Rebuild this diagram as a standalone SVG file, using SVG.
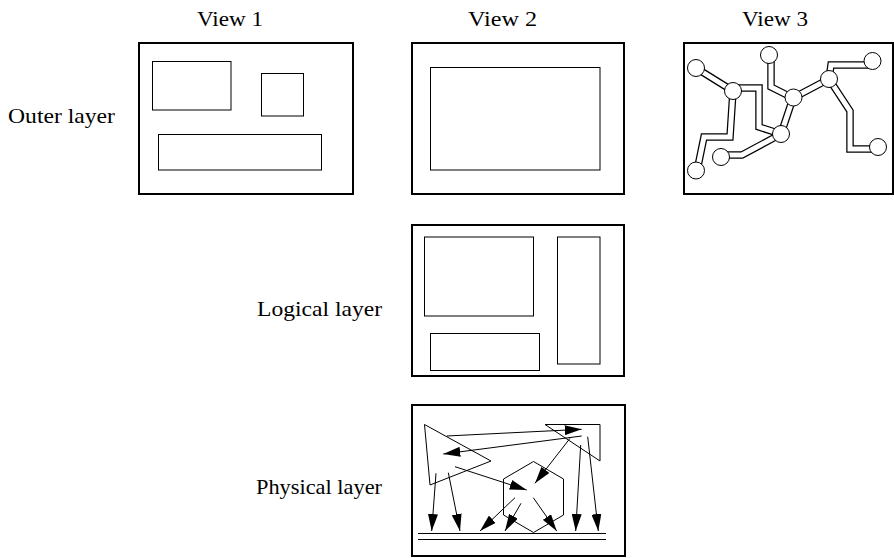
<svg xmlns="http://www.w3.org/2000/svg" width="894" height="558" viewBox="0 0 894 558">
<style>
text{font-family:"Liberation Serif","Times New Roman",serif;font-size:21px;fill:#000}
.frame{fill:#fff;stroke:#000;stroke-width:2}
.box{fill:none;stroke:#000;stroke-width:1}
.po{fill:none;stroke:#000;stroke-width:7.5;stroke-linejoin:miter}
.pi{fill:none;stroke:#fff;stroke-width:5;stroke-linejoin:miter}
.node{fill:#fff;stroke:#000;stroke-width:1}
.arr{fill:none;stroke:#000;stroke-width:1;marker-end:url(#ah)}
.shape{fill:none;stroke:#000;stroke-width:1}
</style>
<defs>
<marker id="ah" markerUnits="userSpaceOnUse" markerWidth="17" markerHeight="10" viewBox="0 0 17 10" refX="17" refY="5" orient="auto">
<path d="M0,0 L17,5 L0,10 z" fill="#000"/>
</marker>
<path id="p1" d="M696,68 L733,91"/>
<path id="p2" d="M733,91 L730,137 L704,137 L697,171"/>
<path id="p3" d="M733,88 L759,88 L759,127 L781,134"/>
<path id="p4" d="M769,55 L771,60 L771,87 L793,98"/>
<path id="p5" d="M793,98 L829,79"/>
<path id="p6" d="M829,79 L831,65 L872,65"/>
<path id="p7" d="M829,79 L850,111 L850,149 L878,149"/>
<path id="p8" d="M793,98 L781,134"/>
<path id="p9" d="M781,134 L742,155 L721,155"/>
</defs>
<rect width="894" height="558" fill="#fff"/>
<g id="labels">
<text x="197" y="26" textLength="66" lengthAdjust="spacingAndGlyphs">View 1</text>
<text x="468" y="26" textLength="69" lengthAdjust="spacingAndGlyphs">View 2</text>
<text x="742" y="26" textLength="66" lengthAdjust="spacingAndGlyphs">View 3</text>
<text x="8" y="123" textLength="107" lengthAdjust="spacingAndGlyphs">Outer layer</text>
<text x="257" y="316" textLength="125" lengthAdjust="spacingAndGlyphs">Logical layer</text>
<text x="256" y="494" textLength="126" lengthAdjust="spacingAndGlyphs">Physical layer</text>
</g>
<g id="view1-outer">
<rect class="frame" x="139" y="43" width="214" height="151"/>
<rect class="box" x="152.5" y="61.5" width="78.5" height="48.5"/>
<rect class="box" x="261.5" y="73.5" width="42" height="42.5"/>
<rect class="box" x="158.5" y="134.5" width="163" height="35.5"/>
</g>
<g id="view2-outer">
<rect class="frame" x="412" y="43" width="212" height="151"/>
<rect class="box" x="430.5" y="67.5" width="169.5" height="102.5"/>
</g>
<g id="view3-outer">
<rect class="frame" x="684" y="43" width="209" height="151"/>
<g id="pipes">
<use href="#p1" class="po"/><use href="#p2" class="po"/><use href="#p3" class="po"/>
<use href="#p4" class="po"/><use href="#p5" class="po"/><use href="#p6" class="po"/>
<use href="#p7" class="po"/><use href="#p8" class="po"/><use href="#p9" class="po"/>
<use href="#p1" class="pi"/><use href="#p2" class="pi"/><use href="#p3" class="pi"/>
<use href="#p4" class="pi"/><use href="#p5" class="pi"/><use href="#p6" class="pi"/>
<use href="#p7" class="pi"/><use href="#p8" class="pi"/><use href="#p9" class="pi"/>
</g>
<g id="hubs">
<circle class="node" cx="696" cy="68" r="8.5"/>
<circle class="node" cx="733" cy="91" r="8.5"/>
<circle class="node" cx="769" cy="55" r="8.5"/>
<circle class="node" cx="793.5" cy="97.5" r="8.5"/>
<circle class="node" cx="829" cy="79" r="8.5"/>
<circle class="node" cx="872.5" cy="61" r="8.5"/>
<circle class="node" cx="781" cy="134" r="8.5"/>
<circle class="node" cx="721" cy="157" r="8.5"/>
<circle class="node" cx="696" cy="170.5" r="8.5"/>
<circle class="node" cx="878" cy="147" r="8.5"/>
</g>
</g>
<g id="logical-layer">
<rect class="frame" x="412" y="225" width="212" height="151"/>
<rect class="box" x="424.5" y="237" width="109" height="79"/>
<rect class="box" x="557.5" y="237" width="42.5" height="127"/>
<rect class="box" x="430.5" y="333.5" width="109" height="37"/>
</g>
<g id="physical-layer">
<rect class="frame" x="412" y="405" width="213" height="151"/>
<polygon class="shape" points="424.5,424.5 491,461 430,485"/>
<polygon class="shape" points="545,424.5 600,424.5 600,461"/>
<polygon class="shape" points="533.5,461.5 563.5,479 563.5,515 533.5,532.5 503.5,515 503.5,479"/>
<line class="shape" x1="418" y1="533.5" x2="606" y2="533.5"/>
<line class="shape" x1="418" y1="539.5" x2="606" y2="539.5"/>
<g id="connectors">
<line class="arr" x1="446.7" y1="436" x2="581.7" y2="429.3"/>
<line class="arr" x1="581.7" y1="436" x2="443.3" y2="454"/>
<line class="arr" x1="570" y1="438.3" x2="535" y2="483.3"/>
<line class="arr" x1="455" y1="466.7" x2="526.7" y2="490"/>
<line class="arr" x1="436" y1="473.3" x2="431.7" y2="531"/>
<line class="arr" x1="448.3" y1="472.7" x2="460" y2="531"/>
<line class="arr" x1="515" y1="497.7" x2="480" y2="531"/>
<line class="arr" x1="521" y1="503.3" x2="505" y2="531"/>
<line class="arr" x1="533.3" y1="497.7" x2="556.7" y2="531"/>
<line class="arr" x1="580.7" y1="445" x2="575.7" y2="531"/>
<line class="arr" x1="587.7" y1="436.7" x2="598.3" y2="531"/>
</g>
</g>
</svg>
